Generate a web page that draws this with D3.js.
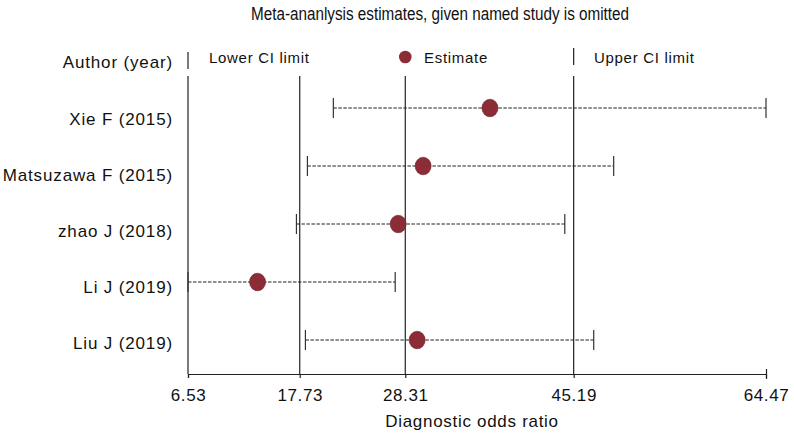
<!DOCTYPE html>
<html>
<head>
<meta charset="utf-8">
<script src="https://cdn.jsdelivr.net/npm/d3@7"></script>
<style>
  body { margin: 0; background: #fff; }
  text { font-family: "Liberation Sans", Arial, Helvetica, sans-serif; fill: #111; }
</style>
</head>
<body>
<svg id="chart" width="794" height="437"></svg>
<script>
const studies = ["Xie F (2015)", "Matsuzawa F (2015)", "zhao J (2018)", "Li J (2019)", "Liu J (2019)"];
const estimates = [36.8, 30.1, 27.6, 13.5, 29.5];
const lowerCI = [21.1, 18.5, 17.4, 6.53, 18.3];
const upperCI = [64.47, 49.2, 44.3, 27.3, 47.2];
const tickValues = [6.53, 17.73, 28.31, 45.19, 64.47];
const refLines = [6.53, 17.73, 28.31, 45.19];
const title = "Meta-ananlysis estimates, given named study is omitted";
const xLabel = "Diagnostic odds ratio";

const svg = d3.select("#chart");
const x = d3.scaleLinear().domain([6.53, 64.47]).range([188, 766]);
const y = d3.scalePoint().domain(studies).range([108, 340]);
const yLabel = d3.scalePoint().domain(studies).range([119, 343]);
const axisY = 374;
const dotColor = "#8c2c37";

// title
svg.append("text").attr("x", 440).attr("y", 20).attr("text-anchor", "middle")
  .attr("textLength", 378).attr("lengthAdjust", "spacingAndGlyphs")
  .style("font-size", "17.5px").text(title);

// header row
svg.append("text").attr("x", 173).attr("y", 68).attr("text-anchor", "end")
  .style("font-size", "17px").style("letter-spacing", "0.85px").text("Author (year)");
svg.append("line").attr("x1", x(6.53)).attr("x2", x(6.53)).attr("y1", 52).attr("y2", 69)
  .attr("stroke", "#222").attr("stroke-width", 1.2);
svg.append("text").attr("x", 209).attr("y", 63).style("font-size", "15px").style("letter-spacing", "0.7px").text("Lower CI limit");
svg.append("circle").attr("cx", x(28.31)).attr("cy", 57).attr("r", 6.3).attr("fill", dotColor);
svg.append("text").attr("x", 424).attr("y", 63).style("font-size", "15px").style("letter-spacing", "0.7px").text("Estimate");
svg.append("line").attr("x1", x(45.19)).attr("x2", x(45.19)).attr("y1", 48).attr("y2", 65)
  .attr("stroke", "#222").attr("stroke-width", 1.2);
svg.append("text").attr("x", 594).attr("y", 63).style("font-size", "15px").style("letter-spacing", "0.7px").text("Upper CI limit");

// reference vertical lines
svg.selectAll("line.ref").data(refLines).join("line").attr("class", "ref")
  .attr("x1", d => x(d)).attr("x2", d => x(d)).attr("y1", 76).attr("y2", axisY)
  .attr("stroke", "#222").attr("stroke-width", 1.2);

// axis
const axis = d3.axisBottom(x).tickValues(tickValues).tickFormat(d3.format(".2f")).tickSize(4).tickPadding(11);
const gAxis = svg.append("g").attr("transform", `translate(0,${axisY})`).call(axis);
gAxis.select(".domain").attr("stroke", "#222").attr("stroke-width", 1.2);
gAxis.selectAll(".tick line").attr("stroke", "#222").attr("stroke-width", 1.2);
gAxis.selectAll(".tick line").filter(d => d === 64.47).attr("y1", -5).attr("y2", 5);
gAxis.selectAll(".tick text").style("font-size", "17px").style("letter-spacing", "0.6px")
  .style("font-family", "'Liberation Sans', Arial, sans-serif").attr("fill", "#111");

svg.append("text").attr("x", 472).attr("y", 427).attr("text-anchor", "middle")
  .style("font-size", "17px").style("letter-spacing", "0.7px").text(xLabel);

// rows
const rows = studies.map((s, i) => ({ s, est: estimates[i], lo: lowerCI[i], hi: upperCI[i] }));
const g = svg.selectAll("g.row").data(rows).join("g").attr("class", "row");
g.append("text").attr("x", 173).attr("y", d => yLabel(d.s)).attr("dy", "0.35em")
  .attr("text-anchor", "end").style("font-size", "17px").style("letter-spacing", "0.85px").text(d => d.s);
g.append("line").attr("x1", d => x(d.lo)).attr("x2", d => x(d.hi))
  .attr("y1", d => y(d.s)).attr("y2", d => y(d.s))
  .attr("stroke", "#222").attr("stroke-width", 1.1).attr("stroke-dasharray", "3.5,1.5");
g.append("line").attr("x1", d => x(d.lo)).attr("x2", d => x(d.lo))
  .attr("y1", d => y(d.s) - 10).attr("y2", d => y(d.s) + 10)
  .attr("stroke", "#333").attr("stroke-width", 1.2);
g.append("line").attr("x1", d => x(d.hi)).attr("x2", d => x(d.hi))
  .attr("y1", d => y(d.s) - 10).attr("y2", d => y(d.s) + 10)
  .attr("stroke", "#333").attr("stroke-width", 1.2);
g.append("ellipse").attr("cx", d => x(d.est)).attr("cy", d => y(d.s))
  .attr("rx", 8).attr("ry", 8.8).attr("fill", dotColor).attr("stroke", "#6e1f28").attr("stroke-width", 0.6);
</script>
</body>
</html>
